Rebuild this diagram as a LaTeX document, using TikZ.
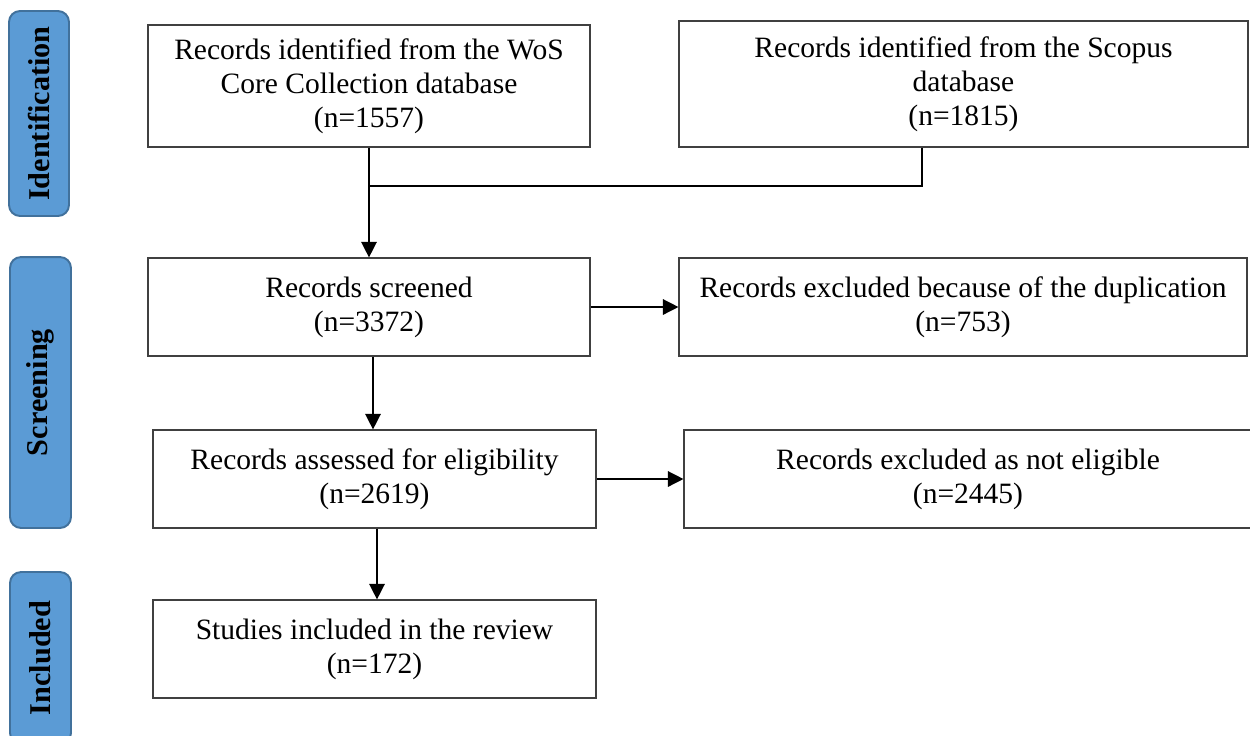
\documentclass[tikz,border=0pt]{standalone}
\usepackage{fontspec}
\setmainfont{Liberation Serif}
\usetikzlibrary{arrows.meta}
\definecolor{barfill}{HTML}{5B9BD5}
\definecolor{barline}{HTML}{41719C}
\definecolor{boxline}{HTML}{404040}
\begin{document}
\begin{tikzpicture}[x=0.02cm,y=-0.02cm,
  box/.style={draw=boxline,line width=0.7pt,inner sep=0pt,align=center,
    font=\fontsize{16.8}{19.4}\selectfont},
  bar/.style={draw=barline,fill=barfill,line width=1.1pt,rounded corners=0.22cm,
    rotate=90,inner sep=0pt,minimum height=1.2cm,
    font=\fontsize{17.2}{20}\selectfont\bfseries},
  arr/.style={line width=0.8pt,-{Triangle[length=0.31cm,width=0.31cm]}},
  ln/.style={line width=1.1pt}]
\useasboundingbox (0,0) rectangle (1250,735);
% side bars
\node[bar,minimum width=4.1cm] (bident) at (39,113.5) {Identification};
\node[bar,minimum width=5.42cm,minimum height=1.22cm] (bscreen) at (40.5,392.5) {Screening};
\node[bar,minimum width=3.44cm,minimum height=1.22cm] (bincl) at (40.5,658) {Included};
% boxes
\node[box,minimum width=8.84cm,minimum height=2.44cm] (wos) at (369,86)
  {Records identified from the WoS\\Core Collection database\\(n=1557)};
\node[box,minimum width=11.38cm,minimum height=2.52cm] (scopus) at (963.5,84)
  {Records identified from the Scopus\\database\\(n=1815)};
\node[box,minimum width=8.84cm,minimum height=1.96cm] (screened) at (369,307)
  {Records screened\\(n=3372)};
\node[box,minimum width=11.36cm,minimum height=1.96cm] (dup) at (963,307)
  {Records excluded because of the duplication\\(n=753)};
\node[box,minimum width=8.86cm,minimum height=1.96cm] (assessed) at (374.5,479)
  {Records assessed for eligibility\\(n=2619)};
\node[box,minimum width=11.36cm,minimum height=1.96cm] (notel) at (968,479)
  {Records excluded as not eligible\\(n=2445)};
\node[box,minimum width=8.86cm,minimum height=1.96cm] (incl) at (374.5,649)
  {Studies included in the review\\(n=172)};
% connectors
\coordinate (j) at (369,186);
\coordinate (c) at (922,186);
\coordinate (x373) at (373,0);
\coordinate (x377) at (377,0);
\draw[ln] (scopus.south -| c) -- (c) -- (j);
\draw[ln] (wos.south) -- (j);
\draw[arr] (j) -- (screened.north);
\draw[arr] (screened.east) -- (dup.west);
\draw[arr] (screened.south -| x373) -- (assessed.north -| x373);
\draw[arr] (assessed.east) -- (notel.west);
\draw[arr] (assessed.south -| x377) -- (incl.north -| x377);
\end{tikzpicture}
\end{document}
